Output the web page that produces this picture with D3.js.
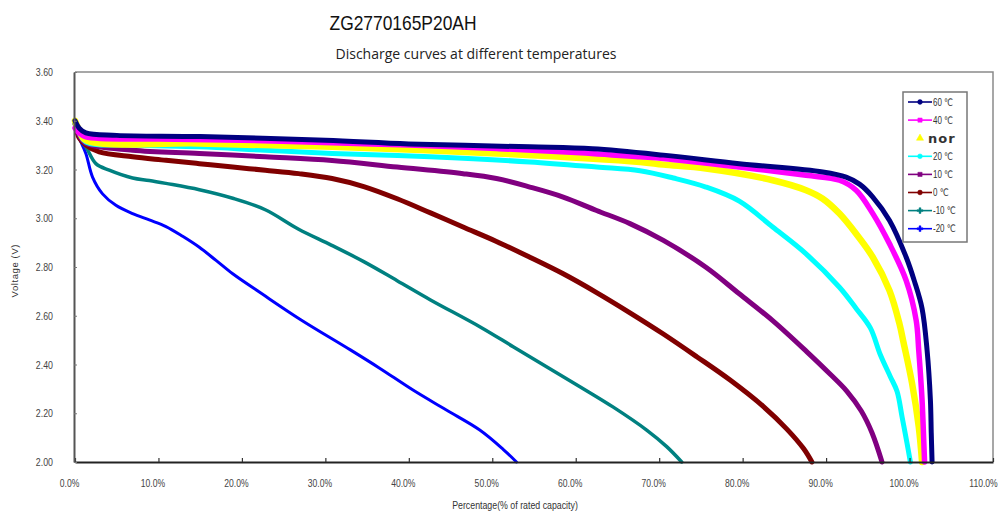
<!DOCTYPE html>
<html>
<head>
<meta charset="utf-8">
<script src="https://cdn.jsdelivr.net/npm/d3@7"></script>
<style>
  body { margin: 0; background: #fff; }
  svg { display: block; }
</style>
</head>
<body>
<div id="chart"></div>
<script>
// values: [percent of rated capacity, voltage]
const s60 = [[0,3.40],[0.5,3.37],[1.3,3.35],[5,3.34],[15,3.335],[30,3.32],[40,3.305],[54.5,3.293],[62,3.285],[70.5,3.259],[79.6,3.224],[89.6,3.19],[92.4,3.169],[94,3.14],[95.6,3.087],[97.6,2.991],[99.6,2.84],[100.6,2.74],[101.5,2.63],[102.1,2.459],[102.5,2.254],[102.6,2.12],[102.7,2.0]];
const s40 = [[0,3.37],[0.5,3.35],[1.3,3.334],[10,3.325],[20,3.32],[30.8,3.31],[40,3.30],[50.5,3.286],[60,3.27],[67.7,3.252],[70.5,3.245],[79.6,3.21],[87.6,3.176],[91.6,3.156],[93.6,3.115],[95.6,3.019],[97.6,2.895],[99.6,2.744],[100.8,2.58],[101.1,2.459],[101.5,2.254],[101.7,2.09],[101.8,2.0]];
const sNor = [[0,3.40],[0.5,3.36],[1.3,3.32],[14.9,3.307],[30.8,3.293],[50.5,3.266],[67.7,3.231],[70.5,3.22],[75.6,3.204],[83.6,3.156],[87.6,3.115],[89.6,3.08],[91.6,3.019],[93.6,2.936],[95.6,2.84],[97.6,2.703],[98.8,2.566],[99.3,2.487],[100.3,2.323],[101.1,2.145],[101.5,2.0]];
const s20 = [[0,3.39],[0.5,3.35],[1.3,3.313],[6.9,3.30],[14.9,3.293],[22.8,3.279],[30.8,3.266],[42.6,3.252],[54.5,3.231],[62.5,3.21],[67.7,3.195],[71.7,3.165],[75.6,3.128],[79.6,3.07],[83.6,2.964],[87.6,2.854],[91.6,2.717],[93.6,2.63],[95.3,2.55],[96.5,2.44],[97.7,2.35],[98.5,2.29],[99.1,2.186],[99.7,2.077],[100.1,2.0]];
const s10 = [[0,3.39],[0.5,3.34],[1.3,3.307],[6.9,3.279],[14.9,3.266],[22.8,3.252],[30.8,3.237],[38.6,3.21],[46.5,3.183],[50.5,3.163],[54.5,3.128],[58.5,3.087],[62.5,3.032],[66.5,2.978],[70.5,2.909],[75.6,2.799],[79.6,2.69],[83.6,2.58],[87.7,2.452],[90.5,2.36],[92.5,2.29],[94.2,2.21],[95.5,2.12],[96.7,2.0]];
const s0 = [[0,3.39],[0.5,3.33],[1.3,3.30],[2.9,3.272],[6.9,3.252],[10.9,3.238],[14.9,3.224],[18.9,3.21],[22.8,3.197],[26.8,3.183],[30.8,3.163],[34.6,3.13],[38.6,3.08],[42.6,3.022],[46.5,2.964],[50.5,2.905],[54.5,2.84],[58.5,2.772],[62.5,2.695],[66.5,2.612],[70.5,2.525],[74.5,2.432],[78.5,2.336],[82.5,2.227],[85.3,2.135],[87.3,2.055],[88.3,2.0]];
const sM10 = [[0,3.39],[0.5,3.33],[1.3,3.293],[2.5,3.224],[4.1,3.197],[6.9,3.165],[8.9,3.155],[10.9,3.143],[14.9,3.117],[18.9,3.082],[22.8,3.035],[26.8,2.955],[30.7,2.89],[34.6,2.822],[38.6,2.744],[42.6,2.665],[48.5,2.555],[52.5,2.473],[56.5,2.391],[60.5,2.309],[64.5,2.225],[68.5,2.131],[70.9,2.063],[72.7,2.0]];
const sM20 = [[0,3.39],[0.5,3.33],[1.3,3.266],[2.1,3.169],[3.3,3.10],[4.9,3.053],[6.9,3.019],[8.9,2.993],[10.9,2.966],[12.9,2.926],[14.9,2.881],[16.9,2.827],[18.9,2.772],[22.4,2.69],[27,2.585],[33,2.46],[36.5,2.385],[40.5,2.295],[44.5,2.213],[48.5,2.131],[51.3,2.052],[52.9,2.0]];

const seriesNames = ["60 ℃", "40 ℃", "nor", "20 ℃", "10 ℃", "0 ℃", "-10 ℃", "-20 ℃"];
const seriesData = [s60, s40, sNor, s20, s10, s0, sM10, sM20];
const seriesColors = ["#000080", "#ff00ff", "#ffff00", "#00ffff", "#800080", "#800000", "#008080", "#0000ff"];
const seriesWidths = [5, 5.5, 6.5, 5, 5, 5, 3.5, 3];

const xTicks = [0, 10, 20, 30, 40, 50, 60, 70, 80, 90, 100, 110];
const yTicks = [2.0, 2.2, 2.4, 2.6, 2.8, 3.0, 3.2, 3.4, 3.6];

const chartTitle = "ZG2770165P20AH";
const chartSubtitle = "Discharge curves at different temperatures";

class DischargeChart {
    constructor(_config) {
        this.config = {
            parentElement: _config.parentElement,
            containerWidth: 1005,
            containerHeight: 512,
            margin: {top: 72, right: 12, bottom: 50, left: 75}
        };
        this.initVis();
    }

    // squeeze text into an Arial-Narrow-like width
    condense(sel, k) {
        sel.each(function() {
            const w = this.getComputedTextLength();
            d3.select(this).attr("textLength", w * k).attr("lengthAdjust", "spacingAndGlyphs");
        });
    }

    initVis() {
        let vis = this;
        const cfg = vis.config;
        vis.width = cfg.containerWidth - cfg.margin.left - cfg.margin.right;
        vis.height = cfg.containerHeight - cfg.margin.top - cfg.margin.bottom;

        const svg = d3.select(cfg.parentElement).append("svg")
            .attr("width", cfg.containerWidth)
            .attr("height", cfg.containerHeight);

        // titles
        svg.append("text")
            .attr("x", 403).attr("y", 30)
            .attr("text-anchor", "middle")
            .attr("font-family", "Liberation Sans, Arial, sans-serif")
            .attr("font-size", 21)
            .attr("fill", "#111")
            .attr("textLength", 147)
            .attr("lengthAdjust", "spacingAndGlyphs")
            .text(chartTitle);

        svg.append("text")
            .attr("x", 476).attr("y", 59)
            .attr("text-anchor", "middle")
            .attr("font-family", "Open Sans, Noto Sans, sans-serif")
            .attr("font-size", 14)
            .attr("fill", "#222")
            .attr("textLength", 281)
            .attr("lengthAdjust", "spacingAndGlyphs")
            .text(chartSubtitle);

        vis.g = svg.append("g")
            .attr("transform", `translate(${cfg.margin.left},${cfg.margin.top})`);

        vis.x = d3.scaleLinear().domain([0, 110]).range([0, vis.width]);
        vis.y = d3.scaleLinear().domain([2.0, 3.6]).range([vis.height, 0]);

        // top/right frame
        vis.g.append("path")
            .attr("d", `M0,0H${vis.width}V${vis.height}`)
            .attr("fill", "none")
            .attr("stroke", "#8a8a8a")
            .attr("stroke-width", 1.5);

        // curves
        const line = d3.line()
            .x(d => vis.x(d[0]))
            .y(d => vis.y(d[1]))
            .curve(d3.curveCatmullRom.alpha(0.5));

        // draw in reverse so the warm curves sit on top like the original
        const order = d3.range(seriesData.length).reverse();
        vis.g.selectAll(".curve")
            .data(order)
            .enter()
            .append("path")
            .attr("class", "curve")
            .attr("d", i => line(seriesData[i]))
            .attr("fill", "none")
            .attr("stroke", i => seriesColors[i])
            .attr("stroke-width", i => seriesWidths[i])
            .attr("stroke-linejoin", "round")
            .attr("stroke-linecap", "round");

        // axes
        const xAxis = vis.g.append("g")
            .attr("transform", `translate(0,${vis.height})`)
            .call(d3.axisBottom(vis.x).tickValues(xTicks).tickSizeInner(-4).tickSizeOuter(0)
                .tickFormat(d => d3.format(".1f")(d) + "%"));
        xAxis.select(".domain").attr("stroke", "#222").attr("stroke-width", 2.2);
        xAxis.selectAll(".tick line").attr("stroke", "#333").attr("stroke-width", 1.2);
        xAxis.selectAll(".tick text")
            .attr("y", 17).attr("dx", d => d === 110 ? -10 : -6)
            .attr("font-family", "Liberation Sans, Arial, sans-serif")
            .attr("font-size", 11)
            .attr("fill", "#444")
            .call(s => vis.condense(s, 0.78));

        const yAxis = vis.g.append("g")
            .attr("transform", "translate(-1,0)")
            .call(d3.axisLeft(vis.y).tickValues(yTicks).tickSizeInner(-3).tickSizeOuter(0)
                .tickFormat(d3.format(".2f")));
        yAxis.select(".domain").attr("stroke", "#555").attr("stroke-width", 2);
        yAxis.selectAll(".tick line").attr("stroke", "#777");
        yAxis.selectAll(".tick text")
            .attr("x", -21)
            .attr("font-family", "Liberation Sans, Arial, sans-serif")
            .attr("font-size", 11)
            .attr("fill", "#444")
            .call(s => vis.condense(s, 0.8));

        // axis titles
        svg.append("text")
            .attr("transform", "translate(18,271) rotate(-90)")
            .attr("text-anchor", "middle")
            .attr("font-family", "Liberation Sans, Arial, sans-serif")
            .attr("font-size", 9.5)
            .attr("fill", "#333")
            .attr("textLength", 53)
            .attr("lengthAdjust", "spacing")
            .text("Voltage (V)");

        svg.append("text")
            .attr("x", 515).attr("y", 509)
            .attr("text-anchor", "middle")
            .attr("font-family", "Liberation Sans, Arial, sans-serif")
            .attr("font-size", 10)
            .attr("fill", "#333")
            .text("Percentage(% of rated capacity)")
            .call(s => vis.condense(s, 0.88));

        vis.renderLegend(svg);
    }

    renderLegend(svg) {
        let vis = this;
        const lg = svg.append("g").attr("transform", "translate(903,92)");
        lg.append("rect")
            .attr("width", 64).attr("height", 150)
            .attr("fill", "#fff")
            .attr("stroke", "#777")
            .attr("stroke-width", 1.5);

        const symbols = [d3.symbolCircle, d3.symbolSquare, d3.symbolTriangle, d3.symbolCircle,
                         d3.symbolSquare, d3.symbolCircle, d3.symbolCross, d3.symbolCross];

        const item = lg.selectAll(".item")
            .data(seriesNames)
            .enter()
            .append("g")
            .attr("class", "item")
            .attr("transform", (d, i) => `translate(0,${10 + i * 18.1})`);

        item.filter(d => d !== "nor")
            .append("line")
            .attr("x1", 5).attr("x2", 29)
            .attr("stroke", d => seriesColors[seriesNames.indexOf(d)])
            .attr("stroke-width", 1.6);

        item.append("path")
            .attr("transform", "translate(17,0)")
            .attr("d", d => d3.symbol(symbols[seriesNames.indexOf(d)], d === "nor" ? 22 : 18)())
            .attr("fill", d => seriesColors[seriesNames.indexOf(d)])
            .attr("stroke", d => seriesColors[seriesNames.indexOf(d)])
            .attr("stroke-width", 0.5);

        item.append("text")
            .attr("x", d => d === "nor" ? 25 : 30)
            .attr("y", d => d === "nor" ? 4.5 : 3.5)
            .attr("font-family", d => d === "nor" ? "DejaVu Sans, sans-serif" : "Liberation Sans, DejaVu Sans, sans-serif")
            .attr("font-weight", d => d === "nor" ? "bold" : "normal")
            .attr("font-size", d => d === "nor" ? 13 : 10)
            .attr("letter-spacing", d => d === "nor" ? 1 : 0)
            .attr("fill", "#333")
            .text(d => d)
            .filter(d => d !== "nor")
            .call(s => vis.condense(s, 0.8));
    }
}

new DischargeChart({parentElement: "#chart"});
</script>
</body>
</html>
